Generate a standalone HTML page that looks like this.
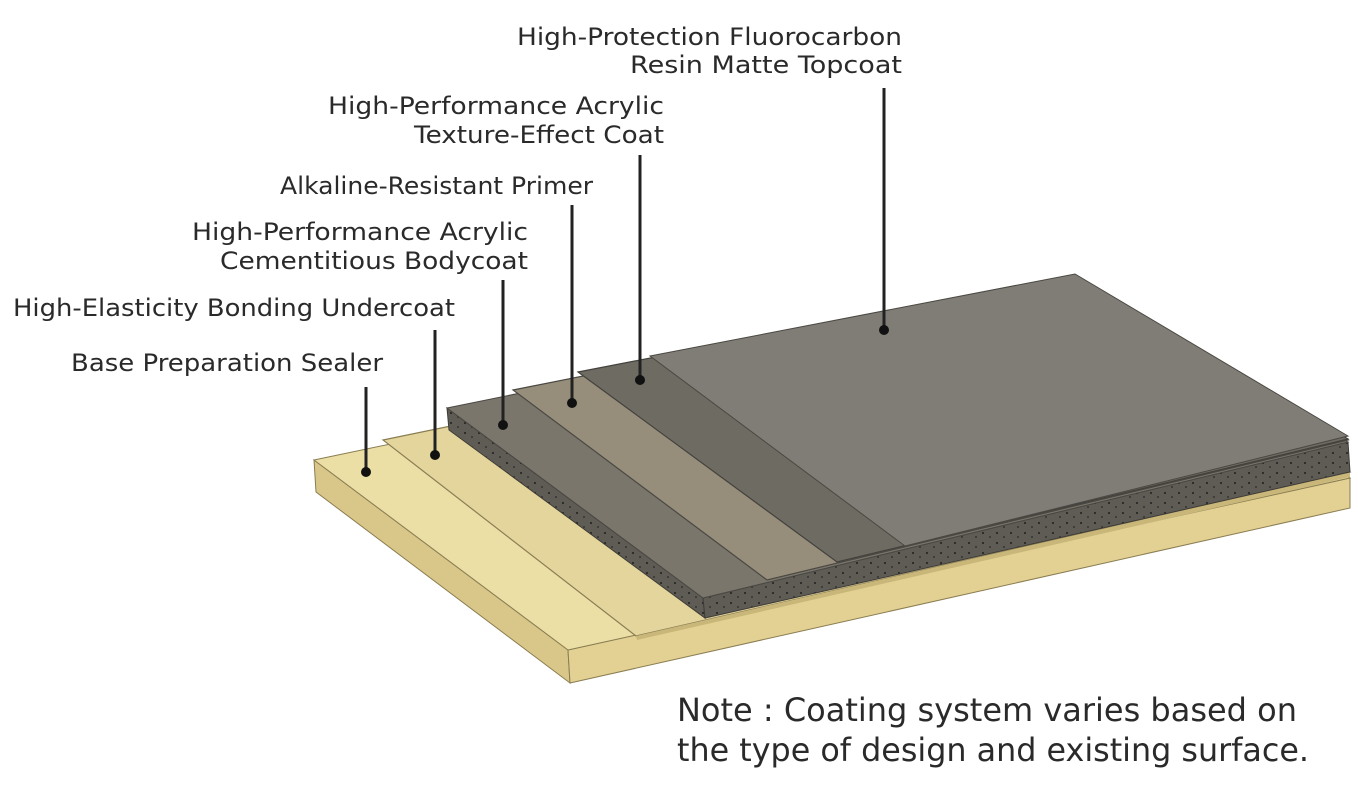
<!DOCTYPE html>
<html><head><meta charset="utf-8"><style>
html,body{margin:0;padding:0;background:#fff;}
svg{display:block;}
text{font-family:"DejaVu Sans","Liberation Sans",sans-serif;fill:#2a2a2a;}
</style></head><body>
<svg width="1358" height="788" viewBox="0 0 1358 788" xmlns="http://www.w3.org/2000/svg">
<defs>
<pattern id="dots" width="14" height="10" patternUnits="userSpaceOnUse">
<rect width="14" height="10" fill="#5f5c55"/>
<circle cx="3" cy="3" r="1.1" fill="#2a2826"/>
<circle cx="10" cy="7" r="0.9" fill="#2a2826"/>
</pattern>
</defs>
<!-- base slab -->
<polygon points="314,460 568,650 570,683 316,492" fill="#d9c789" stroke="#8a7d52" stroke-width="1"/>
<polygon points="568,650 1350,478 1350,508 570,683" fill="#e2d193" stroke="#8a7d52" stroke-width="1"/>
<polygon points="314,460 1080,300 1350,478 568,650" fill="#ecdfa5" stroke="#8a7d52" stroke-width="1"/>
<!-- undercoat -->
<polygon points="383,440 1080,296 1350,472 636,636" fill="#e4d59d" stroke="#8a7d52" stroke-width="1.2"/>
<polygon points="636,636 1350,472 1350,477 637,640" fill="#c9b77a"/>
<!-- bodycoat -->
<polygon points="447,408 703,598 705,618 449,430" fill="url(#dots)" stroke="#3e3c37" stroke-width="1"/>
<polygon points="703,598 1348,442 1350,472 705,618" fill="url(#dots)" stroke="#3e3c37" stroke-width="1"/>
<polygon points="447,408 1075,280 1348,442 703,598" fill="#7a766c" stroke="#4a4842" stroke-width="1"/>
<!-- primer -->
<polygon points="513,390 1075,278 1348,440 767,580" fill="#968d7b" stroke="#4a4842" stroke-width="1.2"/>
<!-- texture -->
<polygon points="578,372 1075,276 1348,439 837,562" fill="#6e6b63" stroke="#43413c" stroke-width="1.2"/>
<!-- topcoat -->
<polygon points="650,356 1075,274 1348,436 905,546" fill="#807d76" stroke="#4a4842" stroke-width="1"/>
<!-- leaders -->
<g stroke="#222" stroke-width="3">
<line x1="366" y1="387" x2="366" y2="472"/>
<line x1="435" y1="330" x2="435" y2="455"/>
<line x1="503" y1="280" x2="503" y2="425"/>
<line x1="572" y1="205" x2="572" y2="403"/>
<line x1="640" y1="155" x2="640" y2="380"/>
<line x1="884" y1="88" x2="884" y2="330"/>
</g>
<g fill="#111">
<circle cx="366" cy="472" r="5"/><circle cx="435" cy="455" r="5"/>
<circle cx="503" cy="425" r="5"/><circle cx="572" cy="403" r="5"/>
<circle cx="640" cy="380" r="5"/><circle cx="884" cy="330" r="5"/>
</g>
<!-- labels -->
<g font-size="24">
<text x="517" y="45" textLength="385" lengthAdjust="spacingAndGlyphs">High-Protection Fluorocarbon</text>
<text x="902" y="73" text-anchor="end" textLength="272" lengthAdjust="spacingAndGlyphs">Resin Matte Topcoat</text>
<text x="328" y="114" textLength="336" lengthAdjust="spacingAndGlyphs">High-Performance Acrylic</text>
<text x="664" y="143" text-anchor="end" textLength="250" lengthAdjust="spacingAndGlyphs">Texture-Effect Coat</text>
<text x="280" y="194" textLength="313" lengthAdjust="spacingAndGlyphs">Alkaline-Resistant Primer</text>
<text x="192" y="240" textLength="336" lengthAdjust="spacingAndGlyphs">High-Performance Acrylic</text>
<text x="528" y="269" text-anchor="end" textLength="308" lengthAdjust="spacingAndGlyphs">Cementitious Bodycoat</text>
<text x="13" y="316" textLength="442" lengthAdjust="spacingAndGlyphs">High-Elasticity Bonding Undercoat</text>
<text x="71" y="371" textLength="312" lengthAdjust="spacingAndGlyphs">Base Preparation Sealer</text>
</g>
<g font-size="32">
<text x="677" y="721" textLength="620" lengthAdjust="spacingAndGlyphs">Note : Coating system varies based on</text>
<text x="677" y="761" textLength="632" lengthAdjust="spacingAndGlyphs">the type of design and existing surface.</text>
</g>
</svg>
</body></html>
